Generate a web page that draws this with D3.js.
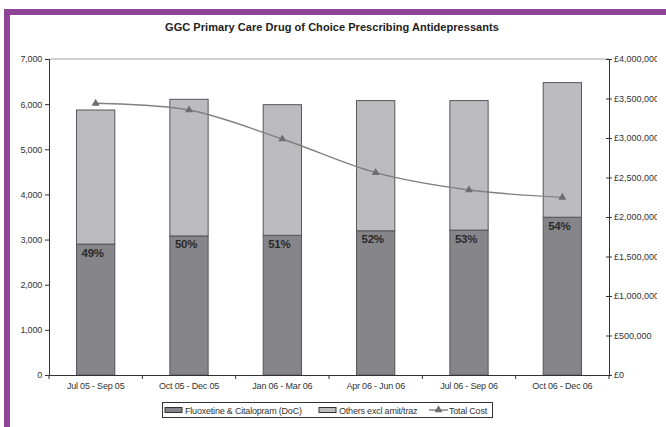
<!DOCTYPE html>
<html>
<head>
<meta charset="utf-8">
<script src="https://cdn.jsdelivr.net/npm/d3@7"></script>
<style>
  body { margin: 0; background: #fff; }
  svg { display: block; font-family: "Liberation Sans", Arial, sans-serif; }
</style>
</head>
<body>
<svg id="canvas"></svg>
<script>
const quarters = ["Jul 05 - Sep 05", "Oct 05 - Dec 05", "Jan 06 - Mar 06", "Apr 06 - Jun 06", "Jul 06 - Sep 06", "Oct 06 - Dec 06"];
const docItems = [2900, 3080, 3095, 3195, 3210, 3495];
const otherItems = [2970, 3027, 2893, 2883, 2868, 2982];
const docShare = ["49%", "50%", "51%", "52%", "53%", "54%"];
const totalCost = [3439000, 3354000, 2987000, 2561000, 2342000, 2249000];
const leftTicks = [0, 1000, 2000, 3000, 4000, 5000, 6000, 7000];
const rightTicks = [0, 500000, 1000000, 1500000, 2000000, 2500000, 3000000, 3500000, 4000000];

let width = 666,
  height = 427,
  plotLeft = 49,
  plotRight = 609,
  plotTop = 59,
  plotBottom = 375;

const darkFill = "#86868a",
  lightFill = "#bcbcc0",
  barStroke = "#56565a",
  lineCol = "#808080",
  purple = "#8e4497";

const canvas = d3.select("#canvas").attr("width", width).attr("height", height);

// purple frame, cropped on right and bottom
canvas.append("rect").attr("x", 7).attr("y", 12).attr("width", 720).attr("height", 500)
  .attr("fill", "#fff").attr("stroke", purple).attr("stroke-width", 6);

canvas.append("defs").append("clipPath").attr("id", "clip")
  .append("rect").attr("x", 0).attr("y", 0).attr("width", 657).attr("height", height);

const g = canvas.append("g").attr("clip-path", "url(#clip)");

const xScale = d3.scaleBand().domain(quarters).range([plotLeft, plotRight]).paddingInner(0.59).paddingOuter(0.295);
const yScale = d3.scaleLinear().domain([0, 7000]).range([plotBottom, plotTop]);
const y2Scale = d3.scaleLinear().domain([0, 4000000]).range([plotBottom, plotTop]);

g.append("text").attr("x", 332).attr("y", 31).attr("text-anchor", "middle")
  .attr("font-size", 11).attr("font-weight", "bold").attr("letter-spacing", 0.05).attr("fill", "#222")
  .text("GGC Primary Care Drug of Choice Prescribing Antidepressants");

// top border of plot area
g.append("line").attr("x1", plotLeft).attr("x2", plotRight).attr("y1", plotTop).attr("y2", plotTop)
  .attr("stroke", "#a0a0a0").attr("stroke-width", 1);

// bars
const rows = quarters.map((q, i) => ({ q, doc: docItems[i], other: otherItems[i], pct: docShare[i] }));

g.selectAll(".doc").data(rows).join("rect").attr("class", "doc")
  .attr("x", d => xScale(d.q)).attr("width", xScale.bandwidth())
  .attr("y", d => yScale(d.doc)).attr("height", d => yScale(0) - yScale(d.doc))
  .attr("fill", darkFill).attr("stroke", barStroke).attr("stroke-width", 1);

g.selectAll(".other").data(rows).join("rect").attr("class", "other")
  .attr("x", d => xScale(d.q)).attr("width", xScale.bandwidth())
  .attr("y", d => yScale(d.doc + d.other)).attr("height", d => yScale(d.doc) - yScale(d.doc + d.other))
  .attr("fill", lightFill).attr("stroke", barStroke).attr("stroke-width", 1);

g.selectAll(".pct").data(rows).join("text").attr("class", "pct")
  .attr("x", d => xScale(d.q) + xScale.bandwidth() / 2 - 3)
  .attr("y", d => yScale(d.doc) + 12.5)
  .attr("text-anchor", "middle").attr("font-size", 11.5).attr("font-weight", "bold")
  .attr("letter-spacing", -0.3).attr("fill", "#2a2a2a").text(d => d.pct);

// axes
const yAxis = d3.axisLeft(yScale).tickValues(leftTicks).tickFormat(d3.format(",")).tickSize(4);
const y2Axis = d3.axisRight(y2Scale).tickValues(rightTicks).tickFormat(d => "£" + d3.format(",")(d)).tickSize(3);
const xAxis = d3.axisBottom(xScale).tickSize(0);

const ya = g.append("g").attr("transform", `translate(${plotLeft},0)`).call(yAxis);
const y2a = g.append("g").attr("transform", `translate(${plotRight},0)`).call(y2Axis);
const xa = g.append("g").attr("transform", `translate(0,${plotBottom})`).call(xAxis);

[ya, y2a, xa].forEach(a => {
  a.select(".domain").attr("stroke", "#333");
  a.selectAll(".tick line").attr("stroke", "#333");
  a.selectAll("text").attr("font-size", 9).attr("fill", "#333").attr("letter-spacing", -0.2)
    .attr("font-family", "Liberation Sans, Arial, sans-serif");
});
ya.selectAll("text").attr("x", -7);
y2a.selectAll(".tick line").attr("x1", -3);
y2a.selectAll("text").attr("x", 5).attr("letter-spacing", 0);
xa.selectAll("text").attr("dy", "1.15em").attr("y", 4);

// category boundary ticks on x axis
const bounds = quarters.map(q => xScale(q) - xScale.step() * xScale.paddingInner() / 2).concat([plotRight]);
g.selectAll(".xb").data(bounds).join("line").attr("class", "xb")
  .attr("x1", d => d).attr("x2", d => d).attr("y1", plotBottom).attr("y2", plotBottom + 4)
  .attr("stroke", "#333");

// total cost line
const line = d3.line().x((d, i) => xScale(quarters[i]) + xScale.bandwidth() / 2).y(d => y2Scale(d)).curve(d3.curveCatmullRom.alpha(0));
g.append("path").attr("d", line(totalCost)).attr("fill", "none").attr("stroke", lineCol).attr("stroke-width", 1.4);

const tri = d3.symbol().type(d3.symbolTriangle).size(28);
g.selectAll(".mk").data(totalCost).join("path").attr("class", "mk")
  .attr("d", tri)
  .attr("transform", (d, i) => `translate(${xScale(quarters[i]) + xScale.bandwidth() / 2},${y2Scale(d)})`)
  .attr("fill", "#6e6e72");

// legend
const lg = g.append("g");
lg.append("rect").attr("x", 162.5).attr("y", 402.5).attr("width", 330).attr("height", 15)
  .attr("fill", "#fff").attr("stroke", "#333");
const legendItems = [
  { label: "Fluoxetine & Citalopram (DoC)", kind: "dark", x: 165 },
  { label: "Others excl amit/traz", kind: "light", x: 319 },
  { label: "Total Cost", kind: "line", x: 429 }
];
legendItems.forEach(it => {
  if (it.kind === "line") {
    lg.append("line").attr("x1", it.x).attr("x2", it.x + 19).attr("y1", 410).attr("y2", 410)
      .attr("stroke", lineCol).attr("stroke-width", 1.4);
    lg.append("path").attr("d", tri).attr("transform", `translate(${it.x + 9.5},410)`).attr("fill", "#6e6e72");
  } else {
    lg.append("rect").attr("x", it.x).attr("y", 407.5).attr("width", 17).attr("height", 5)
      .attr("fill", it.kind === "dark" ? darkFill : lightFill).attr("stroke", "#333");
  }
  lg.append("text").attr("x", it.x + 20).attr("y", 413.5).attr("font-size", 9)
    .attr("letter-spacing", -0.2).attr("fill", "#333").text(it.label);
});
</script>
</body>
</html>
